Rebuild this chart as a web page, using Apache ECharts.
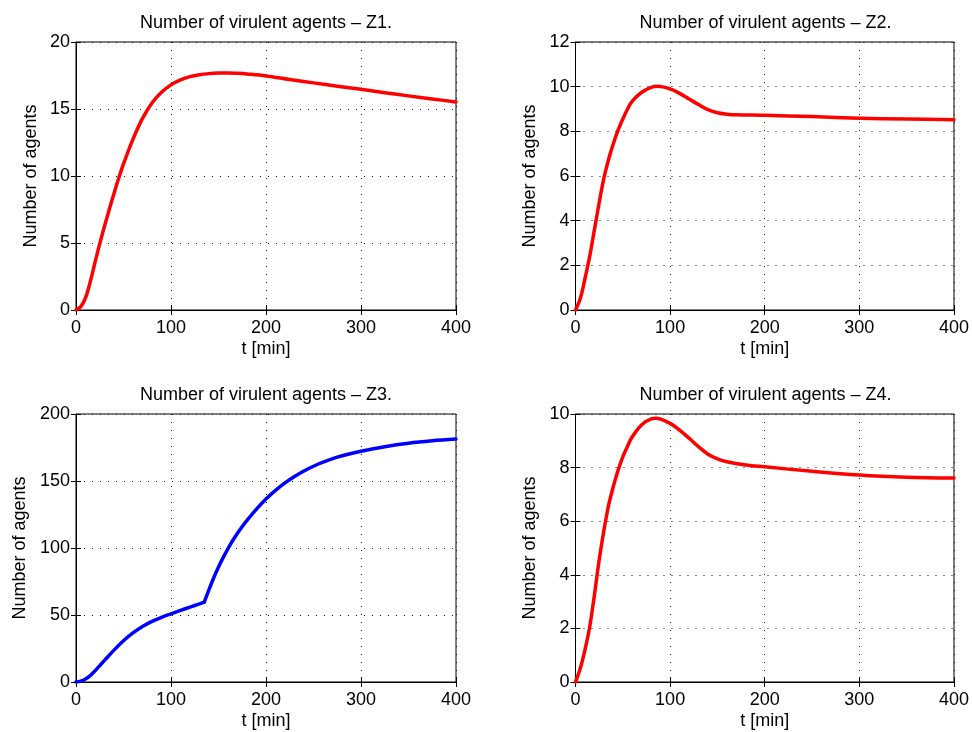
<!DOCTYPE html>
<html>
<head>
<meta charset="utf-8">
<title>Number of virulent agents</title>
<script src="https://cdn.jsdelivr.net/npm/echarts@6/dist/echarts.min.js"></script>
<style>
	html, body { margin: 0; padding: 0; background: #fff; }
	#chart { width: 972px; height: 732px; }
</style>
</head>
<body>
<div id="chart"></div>
<script>
	"use strict";

	/*----- data -----*/
	var t1 = [0, 5, 10, 15, 20, 25, 30, 35, 40, 45, 50, 60, 70, 80, 90, 100, 110, 120, 130, 140, 150, 160, 170, 180, 200, 225, 250, 275, 300, 325, 350, 375, 400];
	var z1 = [0, 0.25, 0.9, 2.1, 3.55, 4.95, 6.25, 7.5, 8.7, 9.85, 10.9, 12.75, 14.3, 15.45, 16.25, 16.8, 17.17, 17.42, 17.56, 17.64, 17.68, 17.69, 17.66, 17.61, 17.47, 17.2, 16.95, 16.7, 16.47, 16.22, 15.98, 15.75, 15.53];

	var t2 = [0, 5, 10, 15, 20, 25, 30, 35, 40, 45, 50, 55, 60, 70, 80, 87, 100, 110, 120, 130, 140, 150, 160, 170, 200, 250, 300, 350, 400];
	var z2 = [0, 0.5, 1.4, 2.4, 3.6, 4.8, 5.9, 6.75, 7.45, 8.05, 8.55, 9.0, 9.35, 9.75, 9.97, 10.02, 9.9, 9.7, 9.45, 9.2, 8.97, 8.83, 8.77, 8.74, 8.72, 8.66, 8.59, 8.55, 8.52];

	var t3 = [0, 5, 10, 15, 20, 25, 30, 40, 50, 60, 70, 80, 90, 100, 110, 120, 130, 135, 140, 145, 150, 155, 160, 165, 170, 175, 180, 190, 200, 210, 220, 230, 240, 250, 260, 275, 300, 325, 350, 375, 400];
	var z3 = [0, 0.6, 2.2, 4.8, 8.3, 12.2, 16.1, 23.8, 30.8, 36.6, 41.4, 45.2, 48.3, 50.9, 53.4, 55.9, 58.3, 59.6, 69, 77.8, 85.8, 93, 99.6, 105.6, 111, 116, 120.6, 129, 136.5, 143, 148.6, 153.4, 157.5, 161, 164, 167.8, 172.2, 175.6, 178.2, 180, 181.3];
	var z3Kink = 135;

	var t4 = [0, 5, 10, 15, 20, 25, 30, 35, 40, 45, 50, 55, 60, 70, 80, 85, 100, 110, 120, 130, 140, 150, 160, 180, 200, 250, 300, 350, 400];
	var z4 = [0, 0.5, 1.2, 2.05, 3.25, 4.55, 5.65, 6.6, 7.3, 7.9, 8.4, 8.8, 9.15, 9.6, 9.82, 9.84, 9.65, 9.4, 9.1, 8.78, 8.5, 8.33, 8.22, 8.1, 8.03, 7.86, 7.72, 7.64, 7.61];

	var titles = ['Number of virulent agents \u2013 Z1.', 'Number of virulent agents \u2013 Z2.', 'Number of virulent agents \u2013 Z3.', 'Number of virulent agents \u2013 Z4.'];
	var yMax = [20, 12, 200, 10];
	var yStep = [5, 2, 50, 2];

	/*----- layout -----*/
	var font = '"Liberation Sans", Arial, Helvetica, sans-serif';
	var boxes = [
		{ left: 76, top: 42, nameGap: 36 },
		{ left: 575.5, top: 42, nameGap: 36 },
		{ left: 76, top: 414, nameGap: 47 },
		{ left: 575.5, top: 414, nameGap: 36 }
	];
	var boxW = 380, boxH = 268;

	function pairs(t, v, from, to) {
		var out = [];
		for (var i = 0; i < t.length; i++) {
			if (t[i] >= from && t[i] <= to) out.push([t[i], v[i]]);
		}
		return out;
	}

	var dotted = { color: '#111', width: 1, type: [1, 7] };

	var option = {
		backgroundColor: '#fff',
		animation: false,
		textStyle: { fontFamily: font, color: '#000' },
		title: [],
		grid: [],
		xAxis: [],
		yAxis: [],
		series: []
	};

	boxes.forEach(function (b, i) {
		option.title.push({
			text: titles[i],
			left: b.left + boxW / 2,
			top: b.top - 28,
			textAlign: 'center',
			padding: 0,
			textStyle: { fontFamily: font, fontSize: 18, fontWeight: 'normal', color: '#000' }
		});
		option.grid.push({
			left: b.left, top: b.top, width: boxW, height: boxH,
			show: true, borderColor: '#000', borderWidth: 1, backgroundColor: 'transparent',
			containLabel: false
		});
		// bottom + top x axes
		option.xAxis.push({
			type: 'value', gridIndex: i, min: 0, max: 400, interval: 100,
			name: 't [min]', nameLocation: 'middle', nameGap: 30,
			nameTextStyle: { fontFamily: font, fontSize: 18, color: '#000' },
			axisLine: { show: true, lineStyle: { color: '#000', width: 1 } },
			axisTick: { show: true, inside: true, length: 5, lineStyle: { color: '#000' } },
			axisLabel: { fontFamily: font, fontSize: 18, color: '#000', margin: 9 },
			splitLine: { show: true, lineStyle: dotted }
		});
		option.xAxis.push({
			type: 'value', gridIndex: i, position: 'top', min: 0, max: 400, interval: 100,
			axisLine: { show: false },
			axisTick: { show: true, inside: true, length: 5, lineStyle: { color: '#000' } },
			axisLabel: { show: false },
			splitLine: { show: false }
		});
		// left + right y axes
		option.yAxis.push({
			type: 'value', gridIndex: i, min: 0, max: yMax[i], interval: yStep[i],
			name: 'Number of agents', nameLocation: 'middle', nameGap: b.nameGap,
			nameTextStyle: { fontFamily: font, fontSize: 18, color: '#000' },
			axisLine: { show: true, lineStyle: { color: '#000', width: 1 } },
			axisTick: { show: true, inside: true, length: 5, lineStyle: { color: '#000' } },
			axisLabel: { fontFamily: font, fontSize: 18, color: '#000', margin: 6 },
			splitLine: { show: true, lineStyle: dotted }
		});
		option.yAxis.push({
			type: 'value', gridIndex: i, position: 'right', min: 0, max: yMax[i], interval: yStep[i],
			axisLine: { show: false },
			axisTick: { show: true, inside: true, length: 5, lineStyle: { color: '#000' } },
			axisLabel: { show: false },
			splitLine: { show: false }
		});
	});

	function addLine(i, data, color) {
		option.series.push({
			type: 'line',
			xAxisIndex: i * 2,
			yAxisIndex: i * 2,
			data: data,
			smooth: 0.35,
			showSymbol: false,
			symbol: 'none',
			clip: true,
			lineStyle: { color: color, width: 3.5, cap: 'round', join: 'round' },
			z: 5
		});
	}

	addLine(0, pairs(t1, z1, 0, 400), '#ff0000');
	addLine(1, pairs(t2, z2, 0, 400), '#ff0000');
	// Z3 has a kink, so it is drawn as two smooth pieces meeting there
	addLine(2, pairs(t3, z3, 0, z3Kink), '#0000ff');
	addLine(2, pairs(t3, z3, z3Kink, 400), '#0000ff');
	addLine(3, pairs(t4, z4, 0, 400), '#ff0000');

	var chart = echarts.init(document.getElementById('chart'), null, { renderer: 'canvas' });
	chart.setOption(option);
	window.addEventListener('resize', function () {
		chart.resize();
	});
</script>
</body>
</html>
